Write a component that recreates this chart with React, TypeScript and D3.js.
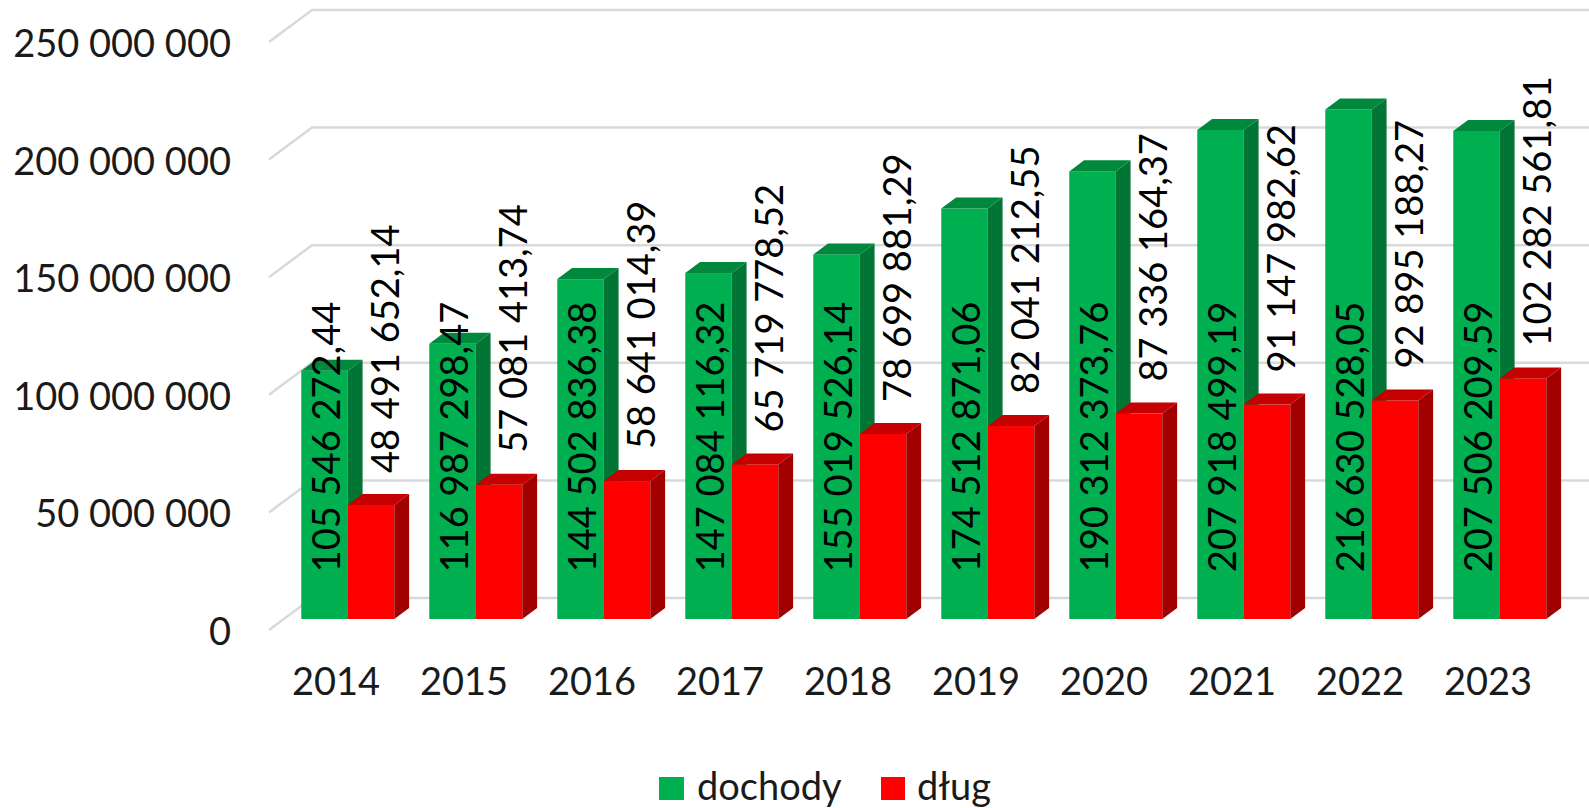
import React from "react";
import * as d3 from "d3";

const years = ["2014", "2015", "2016", "2017", "2018", "2019", "2020", "2021", "2022", "2023"];
const dochody = [105546272.44, 116987298.47, 144502836.38, 147084116.32, 155019526.14, 174512871.06, 190312373.76, 207918499.19, 216630528.05, 207506209.59];
const dlug = [48491652.14, 57081413.74, 58641014.39, 65719778.52, 78699881.29, 82041212.55, 87336164.37, 91147982.62, 92895188.27, 102282561.81];
const yTicks = [0, 50000000, 100000000, 150000000, 200000000, 250000000];
const seriesNames = ["dochody", "dług"];

const W = 1589;
const H = 808;
const FONT = "Lato, 'Open Sans', sans-serif";

const locale = d3.formatLocale({ decimal: ",", thousands: "\u00a0", grouping: [3], currency: ["", ""] });
const fmtVal = locale.format(",.2f");
const fmtTick = locale.format(",.0f");

export default function App() {
  const floorFrontY = 630;
  const leftX = 269;
  const depthX = 43;
  const depthY = 32;
  const barOffFrac = 0.344;
  const barDepthFrac = 0.344;
  const ox = depthX * barOffFrac;
  const oy = depthY * barOffFrac;
  const bdx = depthX * barDepthFrac;
  const bdy = depthY * barDepthFrac;
  const baseY = floorFrontY - oy;
  const backY0 = floorFrontY - depthY;

  const hScale = d3.scaleLinear().domain([0, 250000000]).range([0, 588]);
  const x = d3.scaleBand<string>().domain(years).range([leftX, leftX + 1280]).paddingInner(0.273).paddingOuter(0.1365);
  const xs = d3.scaleBand<string>().domain(seriesNames).range([0, x.bandwidth()]);
  const w = xs.bandwidth();

  const colors = {
    dochody: { front: "#00B050", side: "#007534", top: "#00893D" },
    "dług": { front: "#FF0000", side: "#A20000", top: "#C40000" },
  } as Record<string, { front: string; side: string; top: string }>;

  const bars: React.ReactNode[] = [];
  const labels: React.ReactNode[] = [];
  years.forEach((yr, i) => {
    const vals = [dochody[i], dlug[i]];
    seriesNames.forEach((s, j) => {
      const v = vals[j];
      const h = hScale(v);
      const x0 = (x(yr) as number) + (xs(s) as number) + ox;
      const x1 = x0 + w;
      const yt = baseY - h;
      const c = colors[s];
      bars.push(
        <g key={yr + s}>
          <rect x={x0} y={yt} width={w} height={h} fill={c.front} />
          <polygon points={`${x1},${baseY} ${x1 + bdx},${baseY - bdy} ${x1 + bdx},${yt - bdy} ${x1},${yt}`} fill={c.side} />
          <polygon points={`${x0},${yt} ${x1},${yt} ${x1 + bdx},${yt - bdy} ${x0 + bdx},${yt - bdy}`} fill={c.top} />
        </g>
      );
      const cx = x0 + w / 2;
      if (j === 0) {
        labels.push(
          <text key={"l" + yr + s} transform={`translate(${cx},437) rotate(-90)`} textAnchor="middle" dominantBaseline="central" fontSize={38} fontFamily={FONT} fill="#000">
            {fmtVal(v)}
          </text>
        );
      } else {
        labels.push(
          <text key={"l" + yr + s} transform={`translate(${cx + 13},${yt - 32}) rotate(-90)`} textAnchor="start" dominantBaseline="central" fontSize={38} fontFamily={FONT} fill="#000">
            {fmtVal(v)}
          </text>
        );
      }
    });
  });

  return (
    <svg width={W} height={H} style={{ position: "absolute", left: 0, top: 0, background: "#fff" }}>
      <rect x={0} y={0} width={W} height={H} fill="#fff" />
      {yTicks.map((t) => {
        const yb = backY0 - hScale(t);
        return (
          <g key={t}>
            <polyline points={`${leftX},${yb + depthY} ${leftX + depthX},${yb} ${W + 5},${yb}`} fill="none" stroke="#D9D9D9" strokeWidth={2.5} />
            <text x={231} y={yb + depthY} textAnchor="end" dominantBaseline="central" fontSize={38} fontFamily={FONT} fill="#1a1a1a">
              {fmtTick(t)}
            </text>
          </g>
        );
      })}
      {bars}
      {labels}
      {years.map((yr) => (
        <text key={"x" + yr} x={(x(yr) as number) + x.bandwidth() / 2 + 3} y={695} textAnchor="middle" fontSize={38} fontFamily={FONT} fill="#1a1a1a">
          {yr}
        </text>
      ))}
      <g>
        <rect x={659} y={777} width={25} height={23} fill={colors.dochody.front} />
        <text x={697} y={800} fontSize={38} fontFamily={FONT} fill="#1a1a1a">{seriesNames[0]}</text>
        <rect x={881} y={777} width={24} height={23} fill={colors["dług"].front} />
        <text x={917} y={800} fontSize={38} fontFamily={FONT} fill="#1a1a1a">{seriesNames[1]}</text>
      </g>
    </svg>
  );
}
